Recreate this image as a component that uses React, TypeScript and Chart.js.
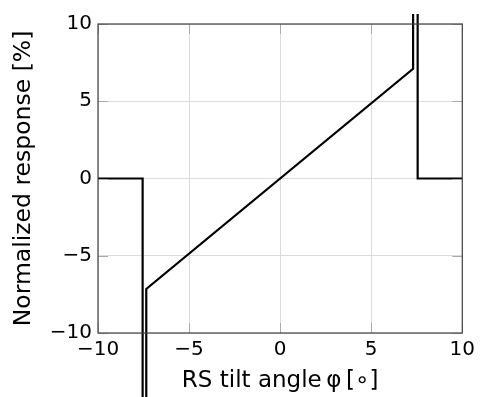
import React, { useEffect, useRef } from "react";
import { Chart, registerables } from "chart.js";

Chart.register(...registerables);

// Response curve (x: tilt angle in degrees, y: normalized response in %); null = gap
const angleX: number[] = [-10, -7.55, -7.55, -7.55, -7.35, -7.35, -7.35, 7.3, 7.3, 7.3, 7.55, 7.55, 7.55, 10];
const responseY: (number | null)[] = [0, 0, -15, null, -15, -7.15, -7.15, 7.1, 10.65, null, 10.65, 0, 0, 0];
const xTicks: number[] = [-10, -5, 0, 5, 10];
const yTicks: number[] = [-10, -5, 0, 5, 10];
const xTitle = "RS tilt angle\u2009φ\u2009[∘]";
const yTitle = "Normalized response [%]";

const FONT = "'DejaVu Sans', sans-serif";

const fmt = (v: number) => String(v).replace("-", "\u2212");

const framePlugin = {
  id: "frame",
  afterDatasetsDraw(chart: any) {
    const { ctx, chartArea: a, scales } = chart;
    ctx.save();
    ctx.strokeStyle = "#aaa";
    ctx.lineWidth = 1;
    const tl = 10;
    xTicks.forEach((t) => {
      const px = Math.round(scales.x.getPixelForValue(t)) + 0.5;
      ctx.beginPath();
      ctx.moveTo(px, a.bottom);
      ctx.lineTo(px, a.bottom - tl);
      ctx.moveTo(px, a.top);
      ctx.lineTo(px, a.top + tl);
      ctx.stroke();
    });
    yTicks.forEach((t) => {
      const py = Math.round(scales.y.getPixelForValue(t)) + 0.5;
      ctx.beginPath();
      ctx.moveTo(a.left, py);
      ctx.lineTo(a.left + tl, py);
      ctx.moveTo(a.right, py);
      ctx.lineTo(a.right - tl, py);
      ctx.stroke();
    });
    ctx.strokeStyle = "#404040";
    ctx.lineWidth = 1.2;
    ctx.strokeRect(a.left, a.top, a.right - a.left, a.bottom - a.top);
    ctx.restore();
  },
};

export default function App() {
  const ref = useRef<HTMLCanvasElement | null>(null);
  useEffect(() => {
    document.body.style.margin = "0";
    const canvas = ref.current!;
    const data = angleX.map((x, i) => ({ x, y: responseY[i] }));
    const chart = new Chart(canvas, {
      type: "line",
      data: {
        datasets: [
          {
            data: data as any,
            borderColor: "#000",
            borderWidth: 2.2,
            pointRadius: 0,
            tension: 0,
            spanGaps: false,
            clip: false as any,
            borderCapStyle: "butt",
            borderJoinStyle: "miter",
          },
        ],
      },
      plugins: [framePlugin],
      options: {
        animation: false,
        responsive: false,
        maintainAspectRatio: false,
        layout: { padding: { top: 24, right: 15, left: 0, bottom: 0 } },
        plugins: { legend: { display: false }, tooltip: { enabled: false } },
        scales: {
          x: {
            type: "linear",
            min: -10,
            max: 10,
            afterBuildTicks: (s: any) => {
              s.ticks = xTicks.map((v) => ({ value: v }));
            },
            afterFit: (s: any) => {
              s.height = 64;
            },
            grid: { color: "#dcdcdc", drawTicks: false, lineWidth: 1 },
            border: { display: false },
            ticks: {
              color: "#000",
              font: { family: FONT, size: 20 },
              padding: 5,
              maxRotation: 0,
              callback: (v: any) => fmt(Number(v)),
            },
            title: {
              display: true,
              text: xTitle,
              color: "#000",
              font: { family: FONT, size: 23 },
              padding: { top: 0, bottom: 2 },
            },
          },
          y: {
            type: "linear",
            min: -10,
            max: 10,
            afterBuildTicks: (s: any) => {
              s.ticks = yTicks.map((v) => ({ value: v }));
            },
            afterFit: (s: any) => {
              s.width = 98;
            },
            grid: { color: "#dcdcdc", drawTicks: false, lineWidth: 1 },
            border: { display: false },
            ticks: {
              color: "#000",
              font: { family: FONT, size: 20 },
              padding: 6,
              callback: (v: any) => fmt(Number(v)),
            },
            title: {
              display: true,
              text: yTitle,
              color: "#000",
              font: { family: FONT, size: 23.5 },
              padding: { top: 10, bottom: 0 },
            },
          },
        },
      },
    });
    return () => chart.destroy();
  }, []);
  return (
    <div style={{ width: 480, height: 397 }}>
      <canvas ref={ref} width={480} height={397} style={{ display: "block", width: 480, height: 397 }} />
    </div>
  );
}
